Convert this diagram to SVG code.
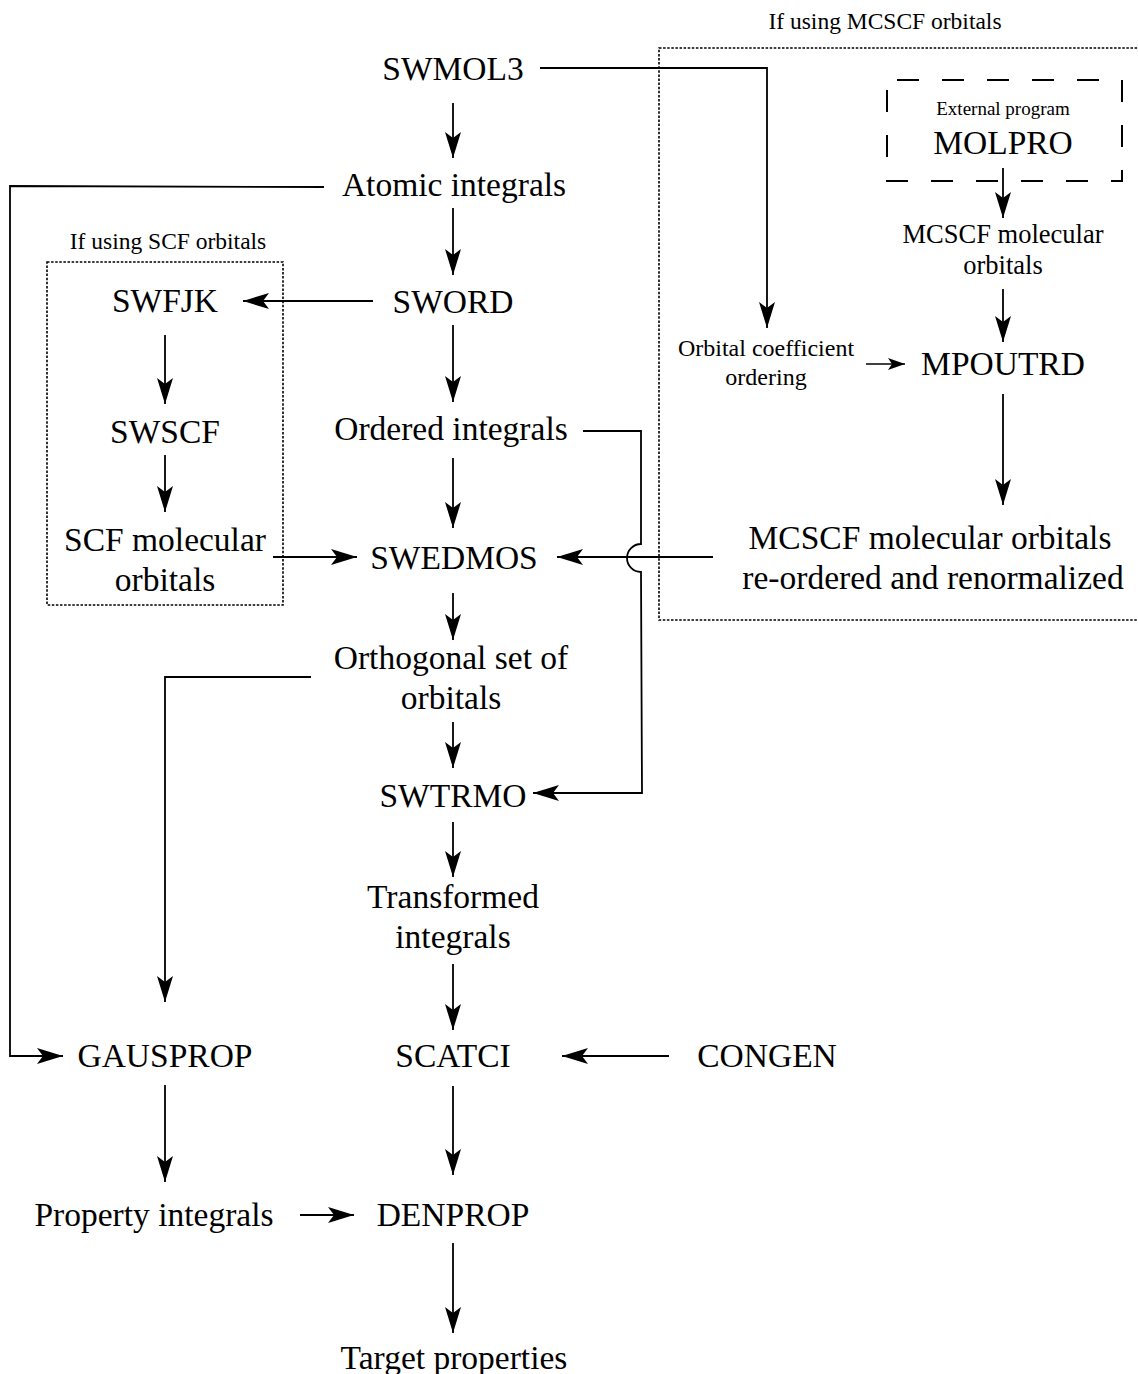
<svg xmlns="http://www.w3.org/2000/svg" width="1138" height="1374" viewBox="0 0 1138 1374">
<defs>
<marker id="ah" markerUnits="userSpaceOnUse" markerWidth="30" markerHeight="20" viewBox="-28 -10 30 20" refX="0" refY="0" orient="auto">
<path d="M0,0 L-26,-8 L-20,0 L-26,8 Z" fill="#000"/>
</marker>
<marker id="ahs" markerUnits="userSpaceOnUse" markerWidth="20" markerHeight="14" viewBox="-18 -7 20 14" refX="0" refY="0" orient="auto">
<path d="M0,0 L-17,-6 L-13,0 L-17,6 Z" fill="#000"/>
</marker>
</defs>
<style>
text{font-family:"Liberation Serif","Times New Roman",serif;fill:#000;text-anchor:middle}
.b{font-size:33.5px}
.m{font-size:26.5px}
.s{font-size:23.5px}
.o{font-size:24px}
.xs{font-size:19px}
.dot{fill:none;stroke:#000;stroke-width:1.6;stroke-dasharray:2.5 1.6}
.dash{fill:none;stroke:#000;stroke-width:2;stroke-dasharray:22 23;stroke-dashoffset:35}
.c{fill:none;stroke:#000;stroke-width:1.6}
.a{fill:none;stroke:#000;stroke-width:1.8;marker-end:url(#ah)}
.as{fill:none;stroke:#000;stroke-width:1.6;marker-end:url(#ahs)}
</style>
<g id="groups">
<rect id="scf-box" class="dot" x="47" y="262" width="236" height="343"/>
<text class="s" x="168" y="249">If using SCF orbitals</text>
<rect id="mcscf-box" class="dot" x="659" y="48" width="490" height="572"/>
<text class="s" x="885" y="29">If using MCSCF orbitals</text>
</g>
<g id="connectors">
<path class="a" d="M453,103 L453,158"/>
<path class="a" d="M453,208 L453,275"/>
<path class="a" d="M453,325 L453,402"/>
<path class="a" d="M453,458 L453,528"/>
<path class="a" d="M453,593 L453,640"/>
<path class="a" d="M453,722 L453,768"/>
<path class="a" d="M453,822 L453,877"/>
<path class="a" d="M453,964 L453,1030"/>
<path class="a" d="M453,1086 L453,1175"/>
<path class="a" d="M453,1243 L453,1333"/>
<path class="a" d="M165,1085 L165,1182"/>
<path class="a" d="M300,1215 L354,1215"/>
<path class="a" d="M669,1056 L562,1056"/>
<path class="a" d="M373,301 L243,301"/>
<path class="a" d="M165,335 L165,404"/>
<path class="a" d="M165,455 L165,512"/>
<path class="a" d="M273,557 L357,557"/>
<path class="a" d="M713,557 L557,557"/>
<path class="a" d="M583,431 L641,431 L641,544 A14,14 0 0 0 641,572 L642,793 L533,793"/>
<path class="a" d="M540,68 L767,68 L767,328"/>
<path class="as" d="M866,364 L905,364"/>
<path class="a" d="M1003,168 L1003,218"/>
<path class="a" d="M1003,289 L1003,342"/>
<path class="a" d="M1003,394 L1003,505"/>
<path class="a" d="M311,677 L165,677 L165,1002"/>
<path class="a" d="M324,187 L10,186 L10,1056 L63,1056"/>
</g>
<g id="n-swmol3"><text class="b" x="453" y="80">SWMOL3</text></g>
<g id="n-atomic"><text class="b" x="454" y="196">Atomic integrals</text></g>
<g id="n-sword"><text class="b" x="453" y="313">SWORD</text></g>
<g id="n-ordered"><text class="b" x="451" y="440">Ordered integrals</text></g>
<g id="n-swedmos"><text class="b" x="454" y="569">SWEDMOS</text></g>
<g id="n-orthogonal"><text class="b" x="451" y="669">Orthogonal set of</text><text class="b" x="451" y="709">orbitals</text></g>
<g id="n-swtrmo"><text class="b" x="453" y="807">SWTRMO</text></g>
<g id="n-transformed"><text class="b" x="453" y="908">Transformed</text><text class="b" x="453" y="948">integrals</text></g>
<g id="n-scatci"><text class="b" x="453" y="1067">SCATCI</text></g>
<g id="n-denprop"><text class="b" x="453" y="1226">DENPROP</text></g>
<g id="n-target"><text class="b" x="454" y="1369">Target properties</text></g>
<g id="n-gausprop"><text class="b" x="165" y="1067">GAUSPROP</text></g>
<g id="n-propint"><text class="b" x="154" y="1226">Property integrals</text></g>
<g id="n-congen"><text class="b" x="767" y="1067">CONGEN</text></g>
<g id="n-swfjk"><text class="b" x="165" y="312">SWFJK</text></g>
<g id="n-swscf"><text class="b" x="165" y="443">SWSCF</text></g>
<g id="n-scfmo"><text class="b" x="165" y="551">SCF molecular</text><text class="b" x="165" y="591">orbitals</text></g>
<g id="n-molpro">
<rect class="dash" x="887" y="80" width="235" height="101"/>
<text class="xs" x="1003" y="115">External program</text>
<text class="b" x="1003" y="154">MOLPRO</text>
</g>
<g id="n-mcscfmo"><text class="m" x="1003" y="243">MCSCF molecular</text><text class="m" x="1003" y="274">orbitals</text></g>
<g id="n-mpoutrd"><text class="b" x="1003" y="375">MPOUTRD</text></g>
<g id="n-orbcoef"><text class="o" x="766" y="356">Orbital coefficient</text><text class="o" x="766" y="385">ordering</text></g>
<g id="n-reordered"><text class="b" x="930" y="549">MCSCF molecular orbitals</text><text class="b" x="933" y="589">re-ordered and renormalized</text></g>
</svg>
